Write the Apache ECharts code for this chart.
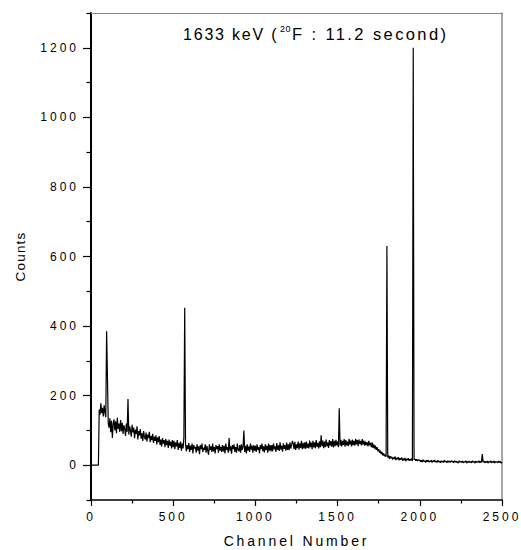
<!DOCTYPE html>
<html>
<head>
<meta charset="utf-8">
<script src="https://cdn.jsdelivr.net/npm/echarts@6/dist/echarts.min.js"></script>
<style>
    html, body { margin: 0; padding: 0; background: #fff; }
    #chart { width: 521px; height: 550px; }
</style>
</head>
<body>
<div id="chart"></div>
<script>
// counts per channel, every 5 channels (0 .. 2500), one row per 100 channels
var channelStep = 5
var counts = [
    0, 0, 0, 0, 0, 0, 0, 0, 0, 0, 160, 145, 178, 150, 165, 140, 172, 152, 138, 385,
    255, 120, 108, 135, 95, 128, 78, 118, 132, 100, 126, 92, 136, 104, 120, 96, 130, 98, 122, 90,
    115, 104, 84, 120, 96, 190, 88, 112, 100, 82, 116, 94, 108, 78, 102, 90, 112, 74, 98, 86,
    104, 76, 92, 70, 98, 82, 74, 94, 68, 88, 78, 96, 66, 84, 72, 90, 64, 82, 70, 86,
    60, 80, 66, 84, 58, 74, 54, 78, 62, 72, 52, 76, 58, 70, 50, 74, 56, 68, 48, 72,
    52, 70, 46, 66, 54, 72, 44, 64, 50, 68, 42, 62, 48, 80, 453, 60, 40, 58, 46, 64,
    38, 56, 44, 62, 34, 58, 48, 52, 36, 60, 42, 54, 32, 58, 46, 62, 38, 50, 44, 60,
    36, 56, 42, 30, 60, 44, 54, 38, 62, 40, 52, 34, 58, 46, 55, 36, 60, 42, 53, 38,
    58, 40, 56, 34, 62, 44, 52, 36, 78, 42, 54, 33, 58, 46, 60, 38, 52, 36, 62, 44,
    40, 58, 36, 60, 44, 52, 100, 38, 56, 34, 60, 42, 54, 38, 62, 45, 56, 36, 58, 42,
    56, 38, 60, 44, 52, 34, 58, 46, 62, 40, 54, 37, 60, 44, 56, 36, 62, 42, 58, 40,
    58, 40, 62, 46, 54, 38, 64, 44, 57, 41, 66, 45, 56, 39, 63, 47, 58, 42, 65, 44,
    60, 43, 66, 48, 58, 70, 62, 46, 67, 44, 60, 49, 68, 45, 63, 50, 70, 46, 64, 48,
    66, 47, 68, 50, 62, 48, 71, 52, 65, 46, 70, 51, 66, 49, 72, 53, 64, 48, 69, 52,
    86, 55, 71, 49, 68, 52, 74, 54, 66, 50, 72, 56, 69, 53, 75, 51, 70, 55, 73, 57,
    68, 52, 164, 56, 73, 54, 70, 58, 75, 53, 72, 57, 68, 55, 76, 59, 71, 54, 74, 58,
    70, 56, 76, 60, 72, 55, 74, 61, 70, 57, 75, 59, 71, 56, 68, 58, 66, 54, 70, 57,
    64, 52, 66, 50, 60, 48, 56, 44, 52, 40, 46, 36, 42, 32, 38, 28, 34, 26, 30, 24,
    630, 22, 28, 18, 26, 20, 24, 16, 22, 18, 25, 15, 21, 17, 23, 14, 20, 16, 22, 13,
    19, 14, 21, 12, 18, 15, 20, 13, 17, 14, 19, 12, 1200, 16, 18, 13, 17, 12, 16, 14,
    15, 10, 14, 9, 16, 11, 13, 8, 14, 10, 15, 9, 12, 11, 14, 8, 13, 10, 15, 9,
    12, 8, 14, 10, 11, 7, 13, 9, 12, 8, 14, 10, 11, 7, 13, 9, 12, 8, 13, 10,
    11, 7, 13, 9, 12, 8, 10, 6, 13, 9, 11, 8, 12, 7, 10, 9, 13, 6, 11, 8,
    12, 8, 10, 7, 13, 9, 11, 6, 12, 8, 10, 9, 13, 7, 11, 8, 32, 9, 12, 7,
    10, 8, 12, 6, 11, 9, 13, 7, 10, 8, 12, 6, 11, 9, 10, 7, 12, 8, 11, 6,
    9
]

var xLabels = [0, 500, 1000, 1500, 2000, 2500]
var xMinorTicks = [250, 750, 1250, 1750, 2250]
var yLabels = [0, 200, 400, 600, 800, 1000, 1200]
var yMinorTicks = [-100, 100, 300, 500, 700, 900, 1100, 1300]

var fontFamily = '"Liberation Sans", Arial, sans-serif'

var seriesData = []
counts.forEach(function (c, i) {
    seriesData.push([i * channelStep, c])
})

// tracking of the original text, keyed by font size
var spacing = { 12: 3, 14: 2.85, 13.5: 1.2, 16: 1.8, 16.5: 2.4, 9: 0.6 }

function plain(v) {
    return String(v)
}

var option = {
    animation: false,
    backgroundColor: '#fff',
    grid: { left: 91, right: 19, top: 13, bottom: 50, containLabel: false, outerBoundsMode: 'none' },
    xAxis: [{
        type: 'value',
        position: 'bottom',
        min: 0,
        max: 2500,
        name: 'Channel Number',
        nameLocation: 'middle',
        nameGap: 34,
        nameTextStyle: { fontSize: 14, color: '#000', fontFamily: fontFamily },
        axisLine: { onZero: false, lineStyle: { color: '#000', width: 1.5 } },
        axisTick: { customValues: xLabels, length: 6, lineStyle: { color: '#000', width: 1.2 } },
        axisLabel: { customValues: xLabels, formatter: plain, margin: 11, fontSize: 12, color: '#000', fontFamily: fontFamily },
        splitLine: { show: false }
    }, {
        type: 'value',
        position: 'bottom',
        min: 0,
        max: 2500,
        axisLine: { show: false, onZero: false },
        axisTick: { customValues: xMinorTicks, length: 3.5, lineStyle: { color: '#000', width: 1.2 } },
        axisLabel: { show: false },
        splitLine: { show: false }
    }, {
        type: 'value',
        position: 'top',
        min: 0,
        max: 2500,
        axisLine: { onZero: false, lineStyle: { color: '#888', width: 1 } },
        axisTick: { show: false },
        axisLabel: { show: false },
        splitLine: { show: false }
    }],
    yAxis: [{
        type: 'value',
        position: 'left',
        min: -100,
        max: 1300,
        name: 'Counts',
        nameLocation: 'middle',
        nameGap: 64,
        nameTextStyle: { fontSize: 13.5, color: '#000', fontFamily: fontFamily },
        axisLine: { onZero: false, lineStyle: { color: '#000', width: 2 } },
        axisTick: { customValues: yLabels, length: 8, lineStyle: { color: '#000', width: 1.2 } },
        axisLabel: { customValues: yLabels, formatter: plain, margin: 12, fontSize: 12, color: '#000', fontFamily: fontFamily },
        splitLine: { show: false }
    }, {
        type: 'value',
        position: 'left',
        min: -100,
        max: 1300,
        axisLine: { show: false, onZero: false },
        axisTick: { customValues: yMinorTicks, length: 4.5, lineStyle: { color: '#000', width: 1.2 } },
        axisLabel: { show: false },
        splitLine: { show: false }
    }, {
        type: 'value',
        position: 'right',
        min: -100,
        max: 1300,
        axisLine: { onZero: false, lineStyle: { color: '#888', width: 1.5 } },
        axisTick: { show: false },
        axisLabel: { show: false },
        splitLine: { show: false }
    }],
    graphic: [
        { type: 'text', x: 183, y: 34, style: { text: '1633 keV (', fontSize: 16, fontFamily: fontFamily, fill: '#000', align: 'left', verticalAlign: 'middle' } },
        { type: 'text', x: 280, y: 29, style: { text: '20', fontSize: 9, fontFamily: fontFamily, fill: '#000', align: 'left', verticalAlign: 'middle' } },
        { type: 'text', x: 292, y: 34, style: { text: 'F : 11.2 second)', fontSize: 16.5, fontFamily: fontFamily, fill: '#000', align: 'left', verticalAlign: 'middle' } }
    ],
    series: [{
        type: 'line',
        xAxisIndex: 0,
        yAxisIndex: 0,
        showSymbol: false,
        sampling: null,
        lineStyle: { color: '#000', width: 1.2 },
        data: seriesData
    }]
}

var myChart = echarts.init(document.getElementById('chart'), null, { renderer: 'svg' })
myChart.setOption(option)

function spaceText() {
    document.querySelectorAll('#chart text').forEach(function (t) {
        var fs = parseFloat(getComputedStyle(t).fontSize)
        if (spacing[fs] != null) t.style.letterSpacing = spacing[fs] + 'px'
    })
}
spaceText()
myChart.on('finished', spaceText)
</script>
</body>
</html>
